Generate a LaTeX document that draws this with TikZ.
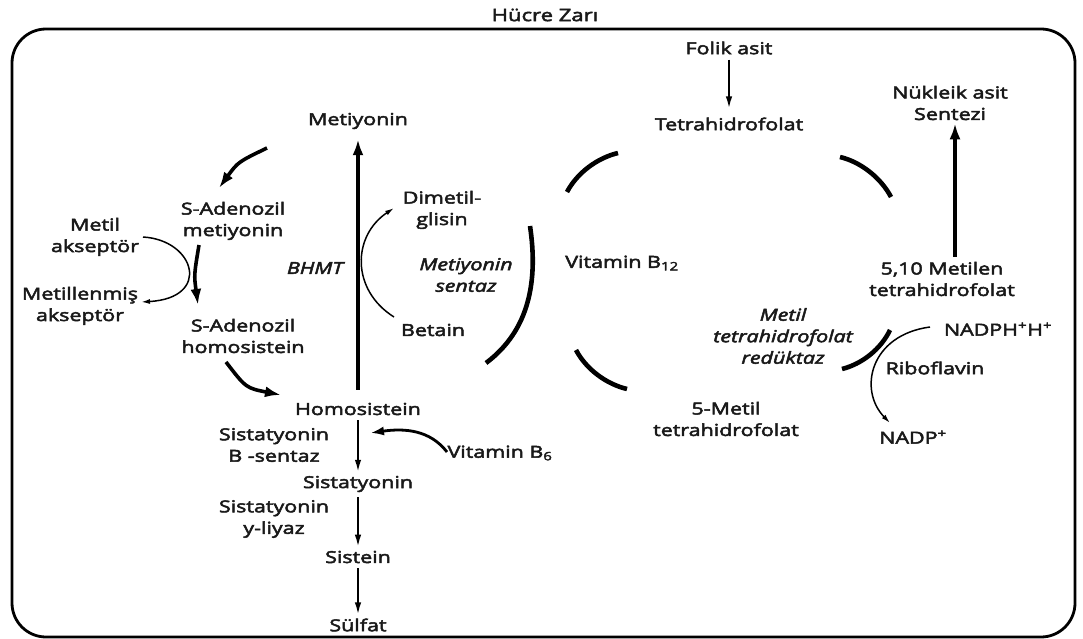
\documentclass[tikz,border=0pt]{standalone}
\usepackage{fontspec}
\setmainfont{Open Sans}[FakeStretch=1.3, FakeBold=3]
\usetikzlibrary{arrows.meta}

\begin{document}
\begin{tikzpicture}[
x=1pt, y=-1pt,
every node/.style={inner sep=1pt, align=center, text=black!90},
]
% \draw [help lines, step=50] (0,0) grid (1083,639);

\tikzset{
	lbl/.style={font=\fontsize{16.5}{21.5}\selectfont},
	enz/.style={font=\fontsize{16.5}{21.5}\selectfont\itshape},
	bigarrow/.style={line width=3.6pt, -{Latex[length=16pt,width=11pt]}},
	smallarrow/.style={line width=1.8pt, -{Latex[length=12pt,width=6.5pt]}},
	thinarrow/.style={line width=1.5pt, -{Latex[length=9pt,width=5pt]}},
	arcpart/.style={line width=4.6pt},
}

\useasboundingbox (0,0) rectangle (1083,639);
\draw[line width=2.8pt, rounded corners=34pt] (12,29) rectangle (1075,637);
\node[font=\fontsize{17}{20}\selectfont] (zar) at (545,15) {Hücre Zarı};

% metiyonin dongusu
\node[lbl] (met) at (358,121) {Metiyonin};
\node[lbl] (sam) at (233,221) {S-Adenozil\\metiyonin};
\node[lbl] (akc) at (95,237) {Metil\\akseptör};
\node[lbl] (makc) at (80,306) {Metillenmiş\\akseptör};
\node[lbl] (sah) at (243,336) {S-Adenozil\\homosistein};
\node[lbl] (homo) at (358,409) {Homosistein};
\node[enz] (bhmt) at (315,268) {BHMT};
\node[lbl] (dmg) at (442,210) {Dimetil-\\glisin};
\node[lbl] (bet) at (433,330) {Betain};
\node[enz] (msyn) at (466,275) {Metiyonin\\sentaz};

\node[lbl] (cbs) at (274,445) {Sistatyonin\\B -sentaz};
\node[lbl] (sist) at (358,484) {Sistatyonin};
\node[lbl] (cgl) at (274,519) {Sistatyonin\\y-liyaz};
\node[lbl] (cys) at (358,557) {Sistein};
\node[lbl] (sulf) at (358,625) {Sülfat};
\node[lbl] (b6) at (500,453) {Vitamin B\textsubscript{6}};

% folat dongusu
\node[lbl] (folik) at (729,48) {Folik asit};
\node[lbl] (thf) at (729,124) {Tetrahidrofolat};
\node[lbl] (nuk) at (950,103) {Nükleik asit\\Sentezi};
\node[lbl] (mthf) at (942,279) {5,10 Metilen\\tetrahidrofolat};
\node[lbl] (b12) at (622,263) {Vitamin B\textsubscript{12}};
\node[enz] (mthfr) at (783,336) {Metil\\tetrahidrofolat\\redüktaz};
\node[lbl] (nadph) at (998,329) {NADPH\textsuperscript{+}H\textsuperscript{+}};
\node[lbl] (ribo) at (935,368) {Riboflavin};
\node[lbl] (nadp) at (913,437) {NADP\textsuperscript{+}};
\node[lbl] (metthf) at (726,419) {5-Metil\\tetrahidrofolat};

% curve ends
\coordinate (samin) at (267,148);
\coordinate (samout) at (219,188);
\coordinate (sahin) at (199,245);
\coordinate (sahout) at (198,305);
\coordinate (homoin) at (226,362);
\coordinate (homoout) at (281,395);
\coordinate (akcout) at (143,237);
\coordinate (makcin) at (141,302);
\coordinate (betout) at (394,317);
\coordinate (dmgin) at (394,208);
\coordinate (b6out) at (447,452);
\coordinate (b6in) at (370,433);
\coordinate (nadphout) at (930,327);
\coordinate (nadpin) at (890,423);

\draw[bigarrow, shorten <=12pt, shorten >=9pt] (homo) -- (met);
\draw[bigarrow] (samin) .. controls (238,162) .. (samout);
\draw[bigarrow] (sahin) .. controls (194,275) .. (sahout);
\draw[bigarrow] (homoin) .. controls (246,388) .. (homoout);
\draw[thinarrow] (akcout) .. controls (195,240) and (212,298) .. (makcin);
\draw[thinarrow] (betout) .. controls (351,290) and (352,236) .. (dmgin);
\draw[arcpart] (530,226) .. controls (538,280) and (530,330) .. (486,363);

\draw[smallarrow, shorten <=4pt, shorten >=3pt] (homo) -- (sist);
\draw[smallarrow, shorten <=4pt, shorten >=3pt] (sist) -- (cys);
\draw[smallarrow, shorten <=4pt, shorten >=3pt] (cys) -- (sulf);
\draw[line width=2.8pt, -{Latex[length=14pt,width=9pt]}] (b6out) .. controls (430,430) and (405,428) .. (b6in);

\draw[smallarrow, shorten <=4pt, shorten >=8pt] (folik) -- (thf);
\draw[bigarrow, shorten <=4pt, shorten >=2pt] ([xshift=13pt]mthf.north) -- ([xshift=5pt]nuk.south);
\draw[arcpart] (567,192) .. controls (577,173) and (597,158) .. (618,153);
\draw[arcpart] (840,157) .. controls (861,162) and (881,178) .. (891,197);
\draw[arcpart] (576,350) .. controls (586,369) and (606,384) .. (627,389);
\draw[arcpart] (842,369) .. controls (862,364) and (881,349) .. (890,330);
\draw[thinarrow] (nadphout) .. controls (870,335) and (858,390) .. (nadpin);

\end{tikzpicture}
\end{document}
